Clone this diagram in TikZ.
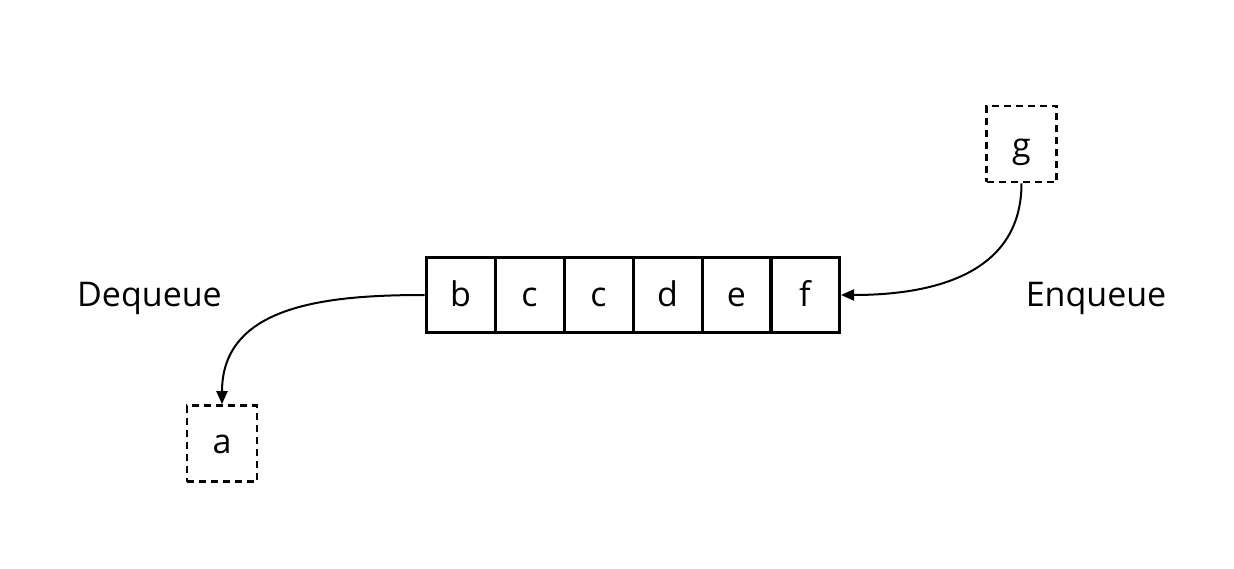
\documentclass[tikz,border=0pt]{standalone}
\usepackage{fontspec}
\setmainfont{Open Sans}
\usetikzlibrary{arrows.meta}
\begin{document}
\begin{tikzpicture}[x=1pt,y=-1pt,
  cell/.style={draw,line width=3pt,minimum width=69pt,minimum height=75pt,inner sep=0pt,text height=24pt,text depth=0pt,font=\fontsize{34}{40}\selectfont},
  dbox/.style={draw,line width=2.6pt,dash pattern=on 7pt off 5pt,minimum width=70pt,minimum height=76pt,inner sep=0pt,text depth=0pt,font=\fontsize{34}{40}\selectfont},
  lbl/.style={font=\fontsize{34}{40}\selectfont,inner sep=0pt,anchor=base},
  conn/.style={line width=2pt,-{Triangle[length=13pt,width=11pt]}}]
\useasboundingbox[fill=white] (0,0) rectangle (1234,569);
\node[cell] (c1) at (460.5,295) {b};
\node[cell] (c2) at (529.5,295) {c};
\node[cell] (c3) at (598.5,295) {c};
\node[cell] (c4) at (667.5,295) {d};
\node[cell] (c5) at (736.5,295) {e};
\node[cell] (c6) at (805,295) {f};
\node[dbox,text height=28pt] (g) at (1021.5,144) {g};
\node[dbox,text height=19pt] (a) at (222,443.5) {a};
\node[lbl] (deq) at (149.5,307) {Dequeue};
\node[lbl] (enq) at (1096,307) {Enqueue};
\draw[conn] (g.south) to[out=-90,in=0,looseness=1.1] (c6.east);
\draw[conn] (c1.west) to[out=180,in=90,looseness=1.1] (a.north);
\end{tikzpicture}
\end{document}
